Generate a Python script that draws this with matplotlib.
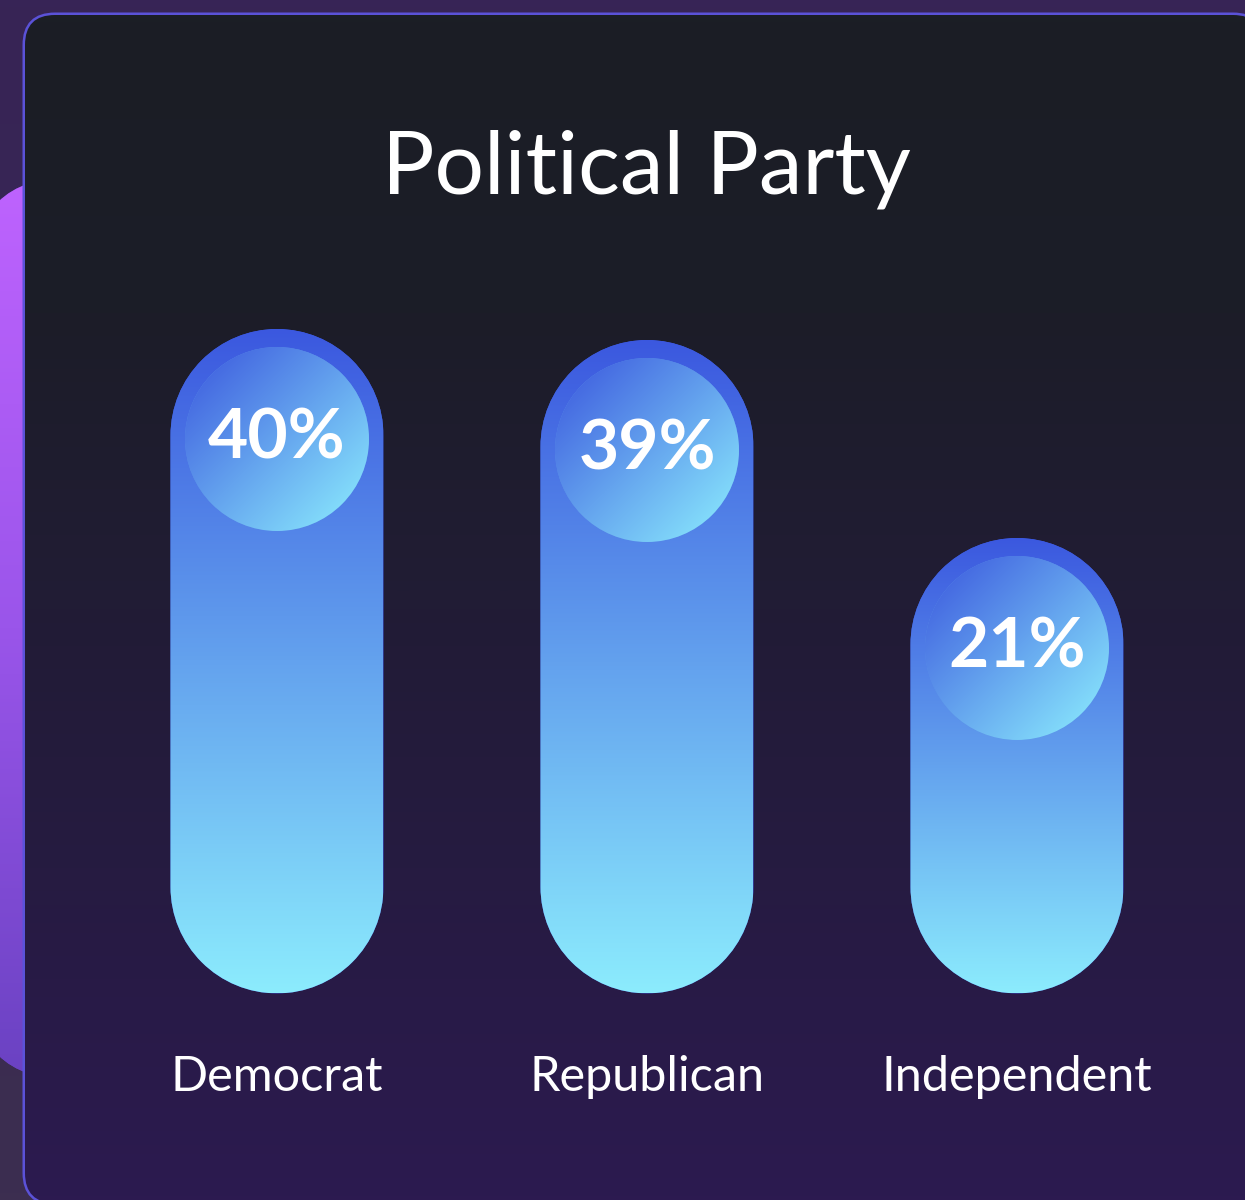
import matplotlib
matplotlib.use("Agg")
import matplotlib.pyplot as plt
import numpy as np
from matplotlib.colors import LinearSegmentedColormap
from matplotlib.patches import Ellipse, FancyBboxPatch, PathPatch
from matplotlib.path import Path
from matplotlib.transforms import blended_transform_factory

# chart data
title = "Political Party"
categories = ["Democrat", "Republican", "Independent"]
shares = [40, 39, 21]

# layout (pixels of the 1245 x 1200 canvas)
W, H = 1245, 1200
PX_X = 370.0      # px between categories
PX_Y = 11.0       # px per percentage point
X0 = 277.0        # px of first category
ZERO_Y = 431.0    # px (from bottom) of 0 %
BAR_FLOOR = -20.4
BAR_R = 106.5     # px, half the bar width
DOT_R = 92
DOT_DROP = 110 / PX_Y

FONT = ["Lato", "DejaVu Sans"]

bg_cmap = LinearSegmentedColormap.from_list("bg", ["#372456", "#3c2e50"])
blob_cmap = LinearSegmentedColormap.from_list("blob", ["#be63fe", "#9a55ea", "#6a42c2"])
card_cmap = LinearSegmentedColormap.from_list(
    "card", [(0.0, "#1b1e25"), (0.25, "#1c1d28"), (1.0, "#2c1a50")]
)
bar_cmap = LinearSegmentedColormap.from_list("bar", ["#3b58df", "#8cecfd"])
dot_cmap = LinearSegmentedColormap.from_list("dot", ["#3a55dd", "#8ef1ff"])


def gradient(ax, extent, cmap, clip=None, diagonal=False, zorder=1):
    t = np.linspace(0, 1, 256)
    if diagonal:
        xx, yy = np.meshgrid(t, t)
        img = (xx + yy) / 2
    else:
        img = np.tile(t[:, None], (1, 2))
    im = ax.imshow(img, cmap=cmap, extent=extent, origin="upper", aspect="auto",
                   interpolation="bilinear", zorder=zorder)
    if clip is not None:
        im.set_clip_path(clip)
    return im


def capsule(xc, y0, y1, rx, ry):
    top = Path.arc(0, 180)
    bot = Path.arc(180, 360)
    vt = top.vertices * [rx, ry] + [xc, y1 - ry]
    vb = bot.vertices * [rx, ry] + [xc, y0 + ry]
    cb = bot.codes.copy()
    cb[0] = Path.LINETO
    verts = np.vstack([vt, vb, vt[:1]])
    codes = np.concatenate([top.codes, cb, [Path.CLOSEPOLY]])
    return Path(verts, codes)


fig = plt.figure(figsize=(W / 100, H / 100), dpi=100)

# background, side blob and card in pixel coordinates
ax_bg = fig.add_axes([0, 0, 1, 1], zorder=0)
gradient(ax_bg, (0, W, H, 0), bg_cmap, zorder=0)

blob = FancyBboxPatch((-27, 177), 300, 903, boxstyle="round,pad=0,rounding_size=100",
                      facecolor="#6a42c2", edgecolor="none", zorder=1)
ax_bg.add_patch(blob)
gradient(ax_bg, (-27, 273, 1080, 177), blob_cmap, clip=blob, zorder=1.5)

# border drawn as a filled patch so Agg does not clip its curves
ax_bg.add_patch(FancyBboxPatch((25, 15), 1238, 1188, boxstyle="round,pad=0,rounding_size=30",
                               facecolor="#2c1a50", edgecolor="#5b52d8", linewidth=3.6, zorder=2))
card = FancyBboxPatch((25, 15), 1238, 1188, boxstyle="round,pad=0,rounding_size=30",
                      facecolor="#2c1a50", edgecolor="none", zorder=2.1)
ax_bg.add_patch(card)
card.set_visible(False)
gradient(ax_bg, (25, 1263, 1203, 15), card_cmap, clip=card, zorder=3)
ax_bg.set_xlim(0, W)
ax_bg.set_ylim(H, 0)
ax_bg.axis("off")

# bars in data coordinates
ax = fig.add_axes([0, 0, 1, 1], zorder=1)
ax.axis("off")
for i, (name, v) in enumerate(zip(categories, shares)):
    rx, ry = BAR_R / PX_X, BAR_R / PX_Y
    bar = PathPatch(capsule(i, BAR_FLOOR, v, rx, ry), facecolor="#3b58df", edgecolor="none", zorder=1)
    ax.add_patch(bar)
    gradient(ax, (i - rx, i + rx, BAR_FLOOR, v), bar_cmap, clip=bar, zorder=2)

    cy = v - DOT_DROP
    dx, dy = DOT_R / PX_X, DOT_R / PX_Y
    dot = Ellipse((i, cy), 2 * dx, 2 * dy, facecolor="#5a90e8", edgecolor="none", zorder=2.5)
    ax.add_patch(dot)
    gradient(ax, (i - dx, i + dx, cy - dy, cy + dy), dot_cmap, clip=dot, diagonal=True, zorder=3)

    ax.text(i, cy, f"{v}%", ha="center", va="center", fontsize=50, fontweight="bold",
            color="white", family=FONT, zorder=4)

label_tf = blended_transform_factory(ax.transData, ax.transAxes)
for i, name in enumerate(categories):
    ax.text(i, 1 - 1091 / H, name, transform=label_tf, ha="center", va="baseline",
            fontsize=35, color="white", family=FONT)

ax.set_xlim(-X0 / PX_X, (W - X0) / PX_X)
ax.set_ylim(-ZERO_Y / PX_Y, (H - ZERO_Y) / PX_Y)

fig.text(646 / W, 1 - 193 / H, title, ha="center", va="baseline", fontsize=63,
         color="white", family=FONT)

fig.savefig("out.png", dpi=100)
